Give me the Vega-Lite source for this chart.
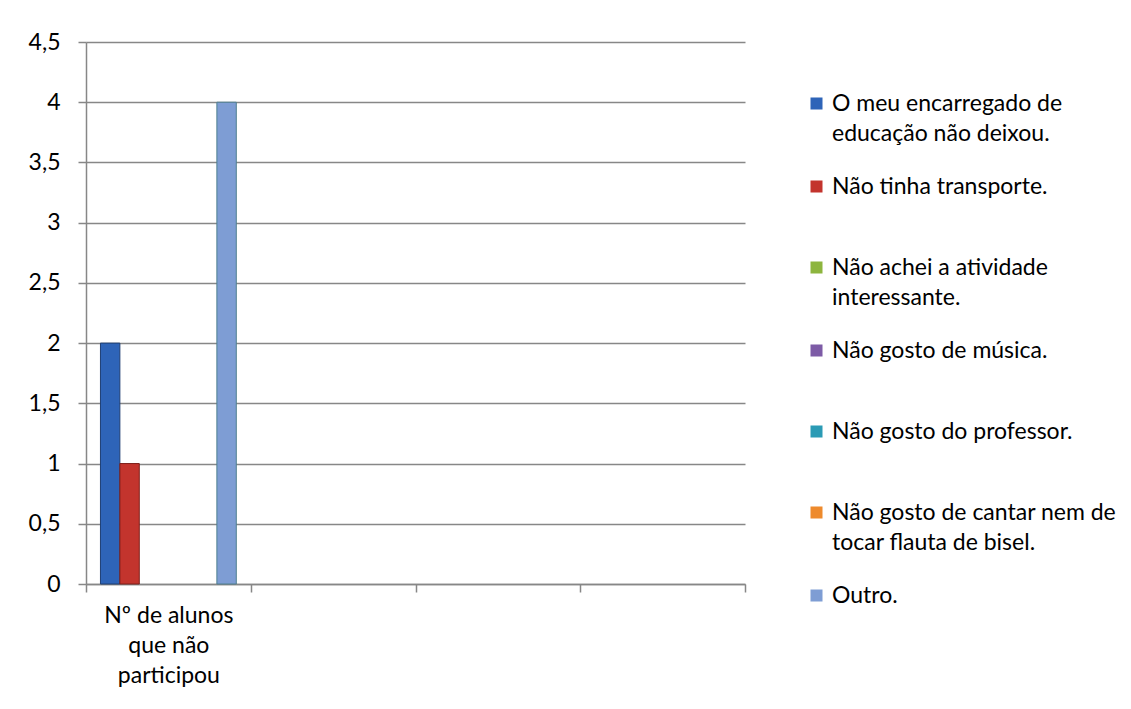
{
  "$schema": "https://vega.github.io/schema/vega-lite/v6.json",
  "width": 659,
  "height": 542,
  "autosize": {"type": "none"},
  "padding": {"left": 86, "top": 42, "right": 386, "bottom": 125},
  "background": "white",
  "config": {
    "font": "Lato",
    "view": {"stroke": null},
    "style": {"guide-label": {"lineHeight": 30}}
  },
  "data": {
    "values": [
      {"cat": "Nº de alunos que não participou", "serie": "O meu encarregado de educação não deixou.", "valor": 2},
      {"cat": "Nº de alunos que não participou", "serie": "Não tinha transporte.", "valor": 1},
      {"cat": "Nº de alunos que não participou", "serie": "Não achei a atividade interessante.", "valor": 0},
      {"cat": "Nº de alunos que não participou", "serie": "Não gosto de música.", "valor": 0},
      {"cat": "Nº de alunos que não participou", "serie": "Não gosto do professor.", "valor": 0},
      {"cat": "Nº de alunos que não participou", "serie": "Não gosto de cantar nem de tocar flauta de bisel.", "valor": 0},
      {"cat": "Nº de alunos que não participou", "serie": "Outro.", "valor": 4}
    ]
  },
  "mark": {"type": "bar", "strokeWidth": 1},
  "encoding": {
    "x": {
      "field": "cat",
      "type": "nominal",
      "scale": {"domain": ["Nº de alunos que não participou", "2", "3", "4"], "paddingInner": 0, "paddingOuter": 0},
      "axis": {
        "title": null,
        "labelAngle": 0,
        "tickBand": "extent",
        "domainColor": "#878787",
        "domainWidth": 1.5,
        "tickColor": "#878787",
        "tickWidth": 1.5,
        "tickSize": 8,
        "labelFontSize": 23,
        "labelColor": "#000000",
        "labelPadding": 12,
        "labelLineHeight": 30,
        "labelBaseline": "top",
        "labelLimit": 300,
        "labelExpr": "datum.value == 'Nº de alunos que não participou' ? ['Nº de alunos', 'que não', 'participou'] : ''"
      }
    },
    "xOffset": {
      "field": "serie",
      "type": "nominal",
      "scale": {
        "domain": ["O meu encarregado de educação não deixou.", "Não tinha transporte.", "Não achei a atividade interessante.", "Não gosto de música.", "Não gosto do professor.", "Não gosto de cantar nem de tocar flauta de bisel.", "Outro."],
        "paddingInner": 0,
        "paddingOuter": 0.745
      }
    },
    "y": {
      "field": "valor",
      "type": "quantitative",
      "scale": {"domain": [0, 4.5], "nice": false},
      "axis": {
        "title": null,
        "values": [0, 0.5, 1, 1.5, 2, 2.5, 3, 3.5, 4, 4.5],
        "grid": true,
        "gridColor": "#878787",
        "gridWidth": 1.5,
        "domainColor": "#878787",
        "domainWidth": 1.5,
        "tickColor": "#878787",
        "tickWidth": 1.5,
        "tickSize": 8,
        "labelPadding": 18,
        "labelFontSize": 23,
        "labelColor": "#000000",
        "labelExpr": "replace(format(datum.value, '~g'), '.', ',')"
      }
    },
    "color": {
      "field": "serie",
      "type": "nominal",
      "scale": {
        "domain": ["O meu encarregado de educação não deixou.", "Não tinha transporte.", "Não achei a atividade interessante.", "Não gosto de música.", "Não gosto do professor.", "Não gosto de cantar nem de tocar flauta de bisel.", "Outro."],
        "range": ["#2E64B8", "#C3342D", "#8DB53E", "#7D5BA6", "#2B9BB5", "#EE8A2C", "#7E9DD4"]
      },
      "legend": {
        "title": null,
        "orient": "none",
        "legendX": 719,
        "legendY": 21,
        "padding": 0,
        "symbolType": "square",
        "symbolSize": 144,
        "symbolStrokeWidth": 0,
        "labelFontSize": 23,
        "labelColor": "#000000",
        "labelLimit": 400,
        "labelOffset": 4,
        "clipHeight": 81,
        "rowPadding": 0,
        "labelExpr": "datum.label == 'O meu encarregado de educação não deixou.' ? ['O meu encarregado de', 'educação não deixou.'] : datum.label == 'Não achei a atividade interessante.' ? ['Não achei a atividade', 'interessante.'] : datum.label == 'Não gosto de cantar nem de tocar flauta de bisel.' ? ['Não gosto de cantar nem de', 'tocar flauta de bisel.'] : datum.label"
      }
    },
    "stroke": {
      "condition": {"test": "datum.valor == 0", "value": "transparent"},
      "field": "serie",
      "type": "nominal",
      "scale": {
        "domain": ["O meu encarregado de educação não deixou.", "Não tinha transporte.", "Não achei a atividade interessante.", "Não gosto de música.", "Não gosto do professor.", "Não gosto de cantar nem de tocar flauta de bisel.", "Outro."],
        "range": ["#1F3F73", "#7E1E1A", "#5C7A22", "#4F3870", "#1B6578", "#A85A14", "#4E7F8F"]
      },
      "legend": null
    }
  }
}
